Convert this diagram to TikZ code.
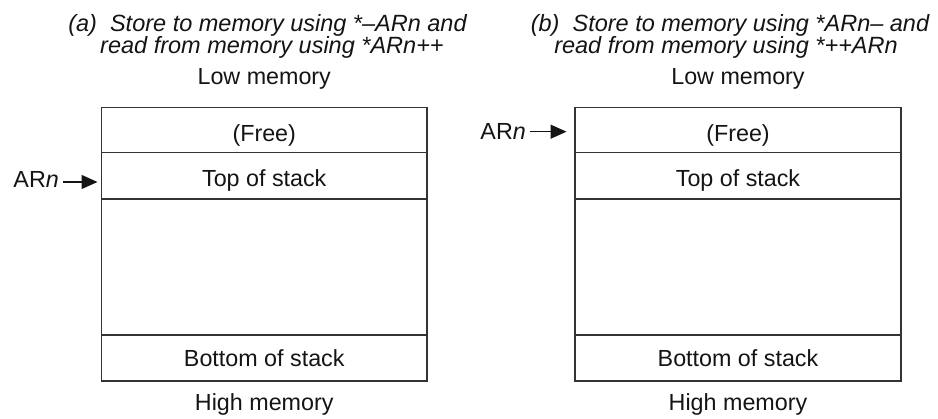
\documentclass[tikz,border=0pt]{standalone}
\usepackage{xcolor}
\definecolor{stack-ink}{HTML}{141414}
\definecolor{stack-line}{HTML}{333333}
\usepackage{fontspec}
\setmainfont{Liberation Sans}
\usepackage{tikz}
\usetikzlibrary{arrows.meta}

\begin{document}
\begin{tikzpicture}[x=1pt, y=-1pt,
    celltext/.style={anchor=base, inner sep=0pt, text=stack-ink,
        font=\fontsize{23.3}{25}\selectfont},
    headtext/.style={celltext, font=\fontsize{23.5}{25}\selectfont\itshape},
    regname/.style={celltext, anchor=base east, inner xsep=4pt},
    frame/.style={draw=stack-line, line width=1.2pt},
    pointer/.style={draw=stack-ink, line width=1.3pt,
        -{Triangle[length=16pt, width=14pt]}}]

    % Page
    \useasboundingbox (0, 0) rectangle (938, 419);

    % Titles
    \node[headtext] (titleA1) at (267.5, 31.5) {(a)\ \ Store to memory using *--ARn and};
    \node[headtext] (titleA2) at (272, 54) {read from memory using *ARn++};
    \node[headtext] (titleB1) at (730, 31.5) {(b)\ \ Store to memory using *ARn-- and};
    \node[headtext] (titleB2) at (726, 54) {read from memory using *++ARn};

    % Stack (a)
    \draw[frame] (101.5, 107.5) rectangle (427, 381);
    \draw[frame] (101.5, 152.5) -- (427, 152.5);
    \draw[frame] (101.5, 199) -- (427, 199);
    \draw[frame] (101.5, 335) -- (427, 335);
    \node[celltext] (lowA) at (264.25, 85) {Low memory};
    \node[celltext] (freeA) at (264.25, 141.5) {(Free)};
    \node[celltext] (topA) at (264.25, 186.5) {Top of stack};
    \node[celltext] (bottomA) at (264.25, 366.7) {Bottom of stack};
    \node[celltext] (highA) at (264.25, 410.7) {High memory};

    % Pointer (a)
    \coordinate (tipA) at (97.5, 182);
    \node[regname] (arnA) at (63, 188) {AR\textit{n}};
    \draw[pointer] (arnA.east |- tipA) -- (tipA);

    % Stack (b)
    \draw[frame] (575, 107.5) rectangle (901, 381);
    \draw[frame] (575, 152.5) -- (901, 152.5);
    \draw[frame] (575, 199) -- (901, 199);
    \draw[frame] (575, 335) -- (901, 335);
    \node[celltext] (lowB) at (738, 85) {Low memory};
    \node[celltext] (freeB) at (738, 141.5) {(Free)};
    \node[celltext] (topB) at (738, 186.5) {Top of stack};
    \node[celltext] (bottomB) at (738, 366.7) {Bottom of stack};
    \node[celltext] (highB) at (738, 410.7) {High memory};

    % Pointer (b)
    \coordinate (tipB) at (566.5, 131.7);
    \node[regname] (arnB) at (530, 139.5) {AR\textit{n}};
    \draw[pointer] (arnB.east |- tipB) -- (tipB);

\end{tikzpicture}
\end{document}
